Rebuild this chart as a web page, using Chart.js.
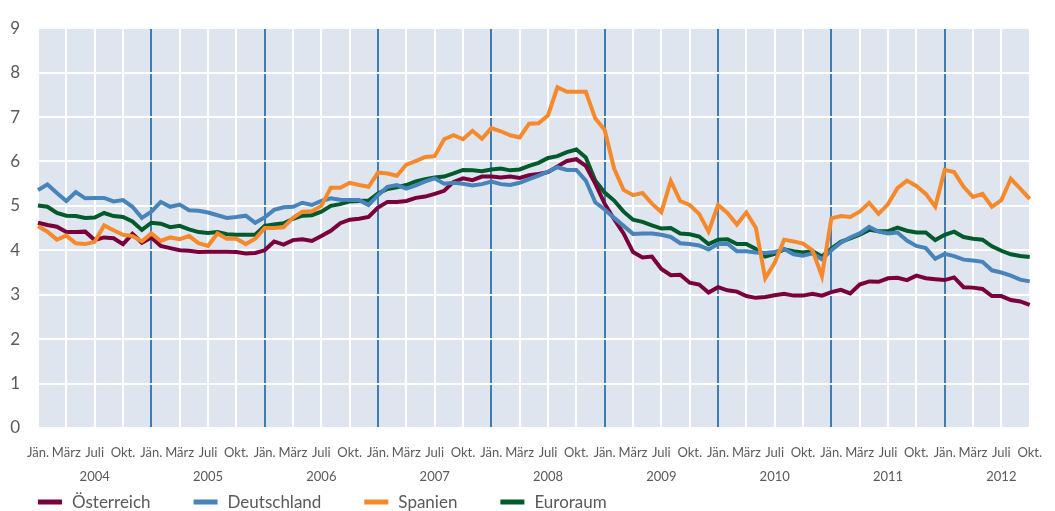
<!DOCTYPE html>
<html>
<head>
<meta charset="utf-8">
<script src="https://cdn.jsdelivr.net/npm/chart.js@4.4.1/dist/chart.umd.min.js"></script>
<style>
  html, body { margin: 0; padding: 0; background: #fff; }
  #wrap { width: 1055px; height: 511px; position: relative; }
</style>
</head>
<body>
<div id="wrap"><canvas id="chart"></canvas></div>
<script>
// Monatsdaten Jän. 2004 bis Okt. 2012
const years = [2004, 2005, 2006, 2007, 2008, 2009, 2010, 2011, 2012];
const quarterLabels = ['Jän.', 'März', 'Juli', 'Okt.'];
const yTicks = [0, 1, 2, 3, 4, 5, 6, 7, 8, 9];

const osterreich = [
  4.62, 4.57, 4.53, 4.41, 4.41, 4.42, 4.23, 4.29, 4.27, 4.14, 4.37, 4.17,
  4.29, 4.10, 4.05, 4.00, 3.99, 3.96, 3.97, 3.97, 3.97, 3.96, 3.93, 3.94,
  4.00, 4.20, 4.13, 4.23, 4.25, 4.21, 4.32, 4.44, 4.61, 4.69, 4.71, 4.75,
  4.96, 5.09, 5.09, 5.11, 5.18, 5.21, 5.27, 5.34, 5.54, 5.62, 5.58, 5.66,
  5.66, 5.64, 5.66, 5.63, 5.69, 5.72, 5.76, 5.89, 6.01, 6.05, 5.90, 5.50,
  5.05, 4.70, 4.38, 3.96, 3.84, 3.86, 3.58, 3.44, 3.45, 3.27, 3.23, 3.05,
  3.17, 3.10, 3.07, 2.97, 2.93, 2.95, 2.99, 3.02, 2.98, 2.98, 3.02, 2.98,
  3.06, 3.11, 3.03, 3.23, 3.30, 3.29, 3.37, 3.38, 3.33, 3.43, 3.37, 3.35,
  3.33, 3.39, 3.17, 3.16, 3.13, 2.97, 2.97, 2.88, 2.85, 2.77
];
const deutschland = [
  5.36, 5.48, 5.29, 5.11, 5.31, 5.17, 5.18, 5.18, 5.10, 5.13, 4.98, 4.73,
  4.87, 5.09, 4.98, 5.03, 4.90, 4.89, 4.85, 4.79, 4.73, 4.75, 4.78, 4.62,
  4.74, 4.91, 4.97, 4.98, 5.07, 5.02, 5.11, 5.17, 5.14, 5.13, 5.13, 5.02,
  5.24, 5.43, 5.47, 5.39, 5.46, 5.55, 5.62, 5.50, 5.52, 5.50, 5.46, 5.49,
  5.55, 5.49, 5.47, 5.52, 5.60, 5.68, 5.77, 5.87, 5.81, 5.81, 5.57, 5.08,
  4.92, 4.73, 4.55, 4.37, 4.38, 4.38, 4.35, 4.30, 4.16, 4.14, 4.11, 4.02,
  4.14, 4.15, 3.98, 3.98, 3.95, 3.94, 3.96, 4.03, 3.91, 3.88, 3.93, 3.80,
  4.00, 4.17, 4.29, 4.38, 4.53, 4.42, 4.38, 4.40, 4.22, 4.10, 4.05, 3.81,
  3.92, 3.87, 3.79, 3.77, 3.74, 3.55, 3.50, 3.43, 3.34, 3.30
];
const spanien = [
  4.54, 4.42, 4.24, 4.33, 4.16, 4.14, 4.19, 4.56, 4.45, 4.35, 4.32, 4.20,
  4.38, 4.21, 4.29, 4.25, 4.32, 4.16, 4.10, 4.38, 4.26, 4.26, 4.14, 4.26,
  4.50, 4.50, 4.52, 4.73, 4.87, 4.88, 5.00, 5.41, 5.41, 5.52, 5.47, 5.43,
  5.75, 5.73, 5.68, 5.93, 6.01, 6.10, 6.12, 6.50, 6.59, 6.50, 6.69, 6.51,
  6.75, 6.68, 6.59, 6.54, 6.85, 6.86, 7.04, 7.67, 7.57, 7.57, 7.57, 6.97,
  6.71, 5.84, 5.36, 5.24, 5.29, 5.05, 4.86, 5.56, 5.11, 5.02, 4.82, 4.42,
  5.02, 4.84, 4.58, 4.85, 4.51, 3.37, 3.72, 4.24, 4.20, 4.15, 4.00, 3.42,
  4.72, 4.77, 4.75, 4.87, 5.07, 4.82, 5.04, 5.40, 5.57, 5.45, 5.27, 4.98,
  5.81, 5.76, 5.43, 5.20, 5.27, 4.98, 5.13, 5.61, 5.39, 5.16
];
const euroraum = [
  5.01, 4.98, 4.84, 4.78, 4.77, 4.73, 4.74, 4.84, 4.77, 4.75, 4.65, 4.46,
  4.62, 4.60, 4.52, 4.55, 4.47, 4.41, 4.39, 4.41, 4.36, 4.35, 4.35, 4.35,
  4.55, 4.58, 4.61, 4.71, 4.78, 4.79, 4.87, 5.00, 5.04, 5.10, 5.11, 5.12,
  5.28, 5.38, 5.42, 5.47, 5.55, 5.60, 5.64, 5.66, 5.73, 5.81, 5.80, 5.78,
  5.82, 5.84, 5.80, 5.82, 5.90, 5.97, 6.08, 6.12, 6.21, 6.27, 6.09, 5.57,
  5.30, 5.12, 4.87, 4.69, 4.64, 4.56, 4.49, 4.50, 4.38, 4.36, 4.31, 4.14,
  4.24, 4.25, 4.14, 4.14, 4.03, 3.86, 3.92, 4.02, 3.98, 3.95, 3.98, 3.86,
  4.04, 4.19, 4.27, 4.35, 4.46, 4.43, 4.43, 4.51, 4.44, 4.40, 4.40, 4.23,
  4.35, 4.42, 4.30, 4.26, 4.24, 4.09, 3.99, 3.91, 3.87, 3.85
];

// Kategorien: eine pro Monat
const months = [];
years.forEach(y => {
  for (let m = 0; m < 12; m++) months.push({ year: y, month: m });
});
const categories = months.slice(0, osterreich.length).map(d => d.year + '-' + (d.month + 1));

const FONT = 'Lato, "Open Sans", sans-serif';
const TEXT = '#5a5a5a';
const PLOT_BG = '#dfe5ee';
const YEAR_LINE = '#3f7db3';

const plotBg = {
  id: 'plotBg',
  beforeDraw(chart) {
    const { ctx, chartArea: a } = chart;
    ctx.save();
    ctx.fillStyle = PLOT_BG;
    ctx.fillRect(a.left, a.top, a.right - a.left, a.bottom - a.top);
    ctx.restore();
  }
};

// Legende unten, als Linienstück + Text
const lineLegend = {
  id: 'lineLegend',
  afterDraw(chart) {
    const ctx = chart.ctx;
    ctx.save();
    ctx.font = '17px ' + FONT;
    ctx.textBaseline = 'middle';
    let x = 38;
    const y = 502;
    chart.data.datasets.forEach(ds => {
      ctx.fillStyle = ds.borderColor;
      ctx.fillRect(x, y - 2.5, 24, 5);
      x += 34;
      ctx.fillStyle = TEXT;
      ctx.fillText(ds.label, x, y + 1);
      x += ctx.measureText(ds.label).width + 43;
    });
    ctx.restore();
  }
};

new Chart(document.getElementById('chart'), {
  type: 'line',
  data: {
    labels: categories,
    datasets: [
      { label: 'Österreich', data: osterreich, borderColor: '#7a003c', order: 3 },
      { label: 'Deutschland', data: deutschland, borderColor: '#4784b9', order: 2 },
      { label: 'Spanien', data: spanien, borderColor: '#f5892b', order: 1 },
      { label: 'Euroraum', data: euroraum, borderColor: '#005a2c', order: 4 }
    ].map(d => Object.assign(d, { borderWidth: 4, pointRadius: 0, tension: 0, fill: false }))
  },
  options: {
    responsive: true,
    maintainAspectRatio: false,
    animation: false,
    layout: { padding: { top: 19, right: 22, bottom: 0, left: 0 } },
    plugins: {
      legend: { display: false },
      tooltip: { enabled: false }
    },
    scales: {
      x: {
        afterFit: s => { s.height = 83; },
        border: { display: false },
        grid: {
          drawTicks: false,
          lineWidth: 2,
          color: c => {
            const v = c.tick ? c.tick.value : c.index;
            if (v % 3 !== 0) return 'rgba(0,0,0,0)';
            return (v % 12 === 0 && v > 0) ? YEAR_LINE : '#ffffff';
          }
        },
        ticks: {
          autoSkip: false,
          maxRotation: 0,
          padding: 13,
          color: TEXT,
          font: { family: FONT, size: 13, lineHeight: 1.85 },
          callback: function (val, i) {
            if (i % 3 !== 0) return null;
            const m = months[i];
            const q = quarterLabels[m.month / 3];
            return m.month === 6 ? [q, String(m.year)] : q;
          }
        }
      },
      y: {
        min: 0,
        max: 9,
        afterFit: s => { s.width = 38; },
        afterBuildTicks: s => { s.ticks = yTicks.map(v => ({ value: v })); },
        border: { display: false },
        grid: { drawTicks: false, lineWidth: 2, color: '#ffffff' },
        ticks: {
          padding: 18,
          color: TEXT,
          font: { family: FONT, size: 17 }
        }
      }
    }
  },
  plugins: [plotBg, lineLegend]
});
</script>
</body>
</html>
